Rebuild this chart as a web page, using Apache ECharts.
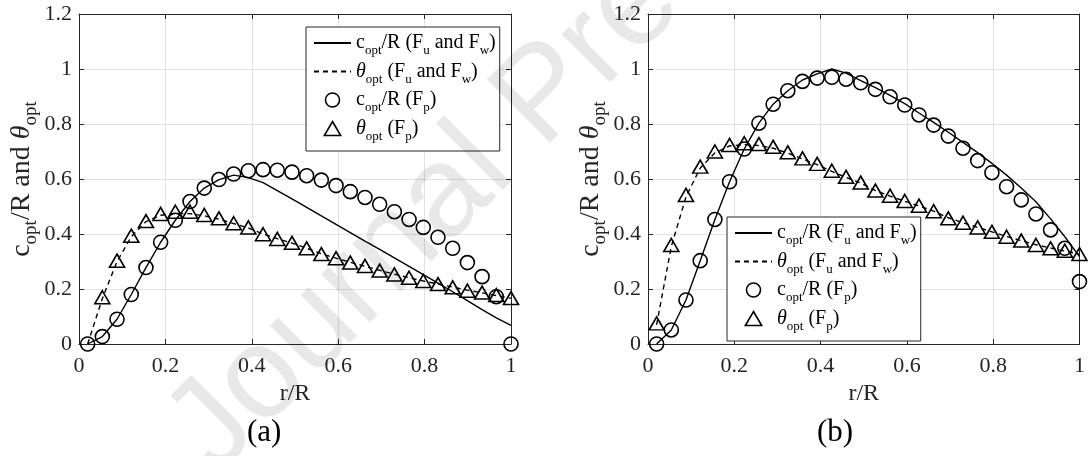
<!DOCTYPE html>
<html>
<head>
<meta charset="utf-8">
<script src="https://cdn.jsdelivr.net/npm/echarts@6/dist/echarts.min.js"></script>
<style>
  html, body { margin: 0; padding: 0; background: #fff; }
  #main { width: 1088px; height: 456px; }
</style>
</head>
<body>
<div id="main"></div>
<script>
// r/R stations (same for both panels)
const rR = [0.02, 0.054, 0.088, 0.121, 0.155, 0.189, 0.223, 0.257, 0.29, 0.324,
    0.358, 0.392, 0.426, 0.459, 0.493, 0.527, 0.561, 0.595, 0.628, 0.662,
    0.696, 0.73, 0.764, 0.797, 0.831, 0.865, 0.899, 0.933, 0.966, 1.0]

// (a)
const cLineA = [0, 0.027, 0.09, 0.18, 0.278, 0.37, 0.45, 0.518, 0.567, 0.598,
    0.614, 0.605, 0.587, 0.558, 0.528, 0.497, 0.466, 0.435, 0.405, 0.374,
    0.344, 0.313, 0.282, 0.252, 0.221, 0.19, 0.158, 0.125, 0.095, 0.068]
const thLineA = [0, 0.165, 0.3, 0.39, 0.445, 0.468, 0.475, 0.474, 0.466, 0.454,
    0.438, 0.422, 0.4, 0.383, 0.367, 0.348, 0.328, 0.312, 0.297, 0.283,
    0.268, 0.254, 0.241, 0.229, 0.218, 0.207, 0.196, 0.186, 0.176, 0.166]
const cPtsA = [0, 0.027, 0.09, 0.18, 0.278, 0.37, 0.45, 0.518, 0.567, 0.598,
    0.618, 0.63, 0.634, 0.632, 0.625, 0.612, 0.596, 0.576, 0.554, 0.533,
    0.508, 0.481, 0.453, 0.424, 0.388, 0.348, 0.296, 0.245, 0.172, 0]
const thPtsA = [null, 0.17, 0.303, 0.394, 0.447, 0.473, 0.481, 0.481, 0.469, 0.457,
    0.439, 0.424, 0.399, 0.382, 0.368, 0.348, 0.327, 0.312, 0.296, 0.284,
    0.267, 0.253, 0.241, 0.229, 0.218, 0.206, 0.194, 0.187, 0.178, 0.167]

// (b)
const cLineB = [0, 0.051, 0.16, 0.303, 0.453, 0.59, 0.709, 0.803, 0.872, 0.921,
    0.96, 0.982, 1.0, 0.985, 0.958, 0.932, 0.904, 0.874, 0.84, 0.806,
    0.77, 0.733, 0.696, 0.657, 0.614, 0.567, 0.517, 0.455, 0.39, 0.318]
const thLineB = [0.07, 0.355, 0.535, 0.64, 0.695, 0.72, 0.725, 0.722, 0.712, 0.694,
    0.673, 0.652, 0.628, 0.606, 0.585, 0.558, 0.538, 0.519, 0.502, 0.483,
    0.459, 0.441, 0.424, 0.408, 0.391, 0.376, 0.361, 0.349, 0.338, 0.327]
const cPtsB = [0, 0.051, 0.16, 0.303, 0.453, 0.59, 0.709, 0.803, 0.872, 0.921,
    0.955, 0.967, 0.97, 0.963, 0.95, 0.926, 0.899, 0.869, 0.833, 0.796,
    0.756, 0.712, 0.667, 0.623, 0.572, 0.524, 0.473, 0.415, 0.348, 0.227]
const thPtsB = [0.075, 0.36, 0.542, 0.645, 0.7, 0.724, 0.73, 0.727, 0.717, 0.697,
    0.675, 0.655, 0.63, 0.608, 0.587, 0.558, 0.539, 0.52, 0.503, 0.483,
    0.457, 0.441, 0.424, 0.408, 0.39, 0.376, 0.36, 0.348, 0.339, 0.327]

const legendText = {
    cUW: '{m|c}{s|opt}{m|/R (F}{s|u}{m| and F}{s|w}{m|)}',
    tUW: '{i|θ}{s|opt}{m| (F}{s|u}{m| and F}{s|w}{m|)}',
    cP: '{m|c}{s|opt}{m|/R (F}{s|p}{m|)}',
    tP: '{i|θ}{s|opt}{m| (F}{s|p}{m|)}'
}
const yName = '{m|c}{s|opt}{m|/R and }{i|θ}{s|opt}'

const serif = 'Liberation Serif'
const ink = '#262626'
// legend text
const rich = {
    m: { fontFamily: serif, fontSize: 20, color: '#000', lineHeight: 28 },
    i: { fontFamily: serif, fontSize: 20, fontStyle: 'italic', color: '#000', lineHeight: 28 },
    s: { fontFamily: serif, fontSize: 13, color: '#000', verticalAlign: 'bottom', height: 12, lineHeight: 12 }
}
// y axis title (bigger)
const richY = {
    m: { fontFamily: serif, fontSize: 28, color: ink, lineHeight: 37 },
    i: { fontFamily: serif, fontSize: 28, fontStyle: 'italic', color: ink, lineHeight: 37 },
    s: { fontFamily: serif, fontSize: 19, color: ink, verticalAlign: 'bottom', height: 19, lineHeight: 19 }
}

function pairs(ys) {
    let out = []
    ys.forEach(function (v, k) {
        if (v !== null) out.push([rR[k], v])
    })
    return out
}

const grids = [
    { left: 79, top: 14, width: 432, height: 330 },
    { left: 648, top: 14, width: 434, height: 330 }
]

let xAxis = []
let yAxis = []
grids.forEach(function (g, i) {
    xAxis.push({
        gridIndex: i, type: 'value', min: 0, max: 1, interval: 0.2, position: 'bottom',
        name: 'r/R', nameLocation: 'middle', nameGap: 36,
        nameTextStyle: { fontFamily: serif, fontSize: 24, color: ink },
        axisLine: { onZero: false, lineStyle: { color: ink, width: 1 } },
        axisTick: { inside: true, length: 5, lineStyle: { color: ink } },
        axisLabel: { fontFamily: serif, fontSize: 22, color: ink, margin: 11 },
        splitLine: { show: true, lineStyle: { color: '#e2e2e2', width: 1 } }
    })
    xAxis.push({
        gridIndex: i, type: 'value', min: 0, max: 1, interval: 0.2, position: 'top',
        axisLine: { onZero: false, lineStyle: { color: ink, width: 1 } },
        axisTick: { inside: true, length: 5, lineStyle: { color: ink } },
        axisLabel: { show: false },
        splitLine: { show: false }
    })
    yAxis.push({
        gridIndex: i, type: 'value', min: 0, max: 1.2, interval: 0.2, position: 'left',
        name: yName, nameLocation: 'middle', nameGap: 37,
        nameTextStyle: { rich: richY, color: ink },
        axisLine: { onZero: false, lineStyle: { color: ink, width: 1 } },
        axisTick: { inside: true, length: 5, lineStyle: { color: ink } },
        axisLabel: { fontFamily: serif, fontSize: 22, color: ink, margin: 7 },
        splitLine: { show: true, lineStyle: { color: '#e2e2e2', width: 1 } }
    })
    yAxis.push({
        gridIndex: i, type: 'value', min: 0, max: 1.2, interval: 0.2, position: 'right',
        axisLine: { onZero: false, lineStyle: { color: ink, width: 1 } },
        axisTick: { inside: true, length: 5, lineStyle: { color: ink } },
        axisLabel: { show: false },
        splitLine: { show: false }
    })
})

const panels = [[cLineA, thLineA, cPtsA, thPtsA], [cLineB, thLineB, cPtsB, thPtsB]]
let series = []
panels.forEach(function (p, i) {
    let ax = { xAxisIndex: 2 * i, yAxisIndex: 2 * i }
    series.push(Object.assign({
        name: 'cUW', type: 'line', data: pairs(p[0]), symbol: 'none',
        lineStyle: { color: '#000', width: 1.4 }, itemStyle: { color: '#000' }, z: 3
    }, ax))
    series.push(Object.assign({
        name: 'tUW', type: 'line', data: pairs(p[1]), symbol: 'none',
        lineStyle: { color: '#000', width: 1.4, type: [5, 4] }, itemStyle: { color: '#000' }, z: 3
    }, ax))
    series.push(Object.assign({
        name: 'cP', type: 'scatter', data: pairs(p[2]), symbol: 'circle', symbolSize: 14, clip: false,
        itemStyle: { color: 'rgba(0,0,0,0)', borderColor: '#000', borderWidth: 1.6, opacity: 1 }, z: 4
    }, ax))
    series.push(Object.assign({
        name: 'tP', type: 'scatter', data: pairs(p[3]), symbol: 'triangle', symbolSize: [15, 13], clip: false,
        itemStyle: { color: 'rgba(0,0,0,0)', borderColor: '#000', borderWidth: 1.6, opacity: 1 }, z: 4
    }, ax))
})

function makeLegend(left, top) {
    return {
        orient: 'vertical', left: left, top: top, itemGap: 0, itemWidth: 37, itemHeight: 14,
        padding: [2, 4, 8, 7], borderColor: ink, borderWidth: 1, backgroundColor: '#fff',
        selectedMode: false, z: 10,
        itemStyle: { borderWidth: 1.6 },
        data: [
            { name: 'cUW', itemStyle: { opacity: 0 } },
            { name: 'tUW', itemStyle: { opacity: 0 } },
            { name: 'cP', icon: 'circle' },
            { name: 'tP', icon: 'path://M7,0 L14,12 L0,12 Z' }
        ],
        formatter: function (n) { return legendText[n] },
        textStyle: { rich: rich, lineHeight: 28 }
    }
}

var chartDom = document.getElementById('main')
var myChart = echarts.init(chartDom, null, { renderer: 'canvas' })
var option = {
    animation: false,
    backgroundColor: '#fff',
    grid: grids,
    xAxis: xAxis,
    yAxis: yAxis,
    legend: [makeLegend(306, 27), makeLegend(727, 217)],
    series: series,
    graphic: [
        { type: 'text', left: 247, top: 417, z: 20,
          style: { text: '(a)', fontFamily: serif, fontSize: 31, fill: '#000' } },
        { type: 'text', left: 817, top: 417, z: 20,
          style: { text: '(b)', fontFamily: serif, fontSize: 31, fill: '#000' } },
        // watermark
        { type: 'text', x: 190, y: 452, rotation: Math.PI / 4, z: 100, silent: true,
          style: { text: 'Journal Pre-proof', fontFamily: 'Liberation Sans', fontSize: 130,
                   fill: 'rgba(0,0,0,0.09)', align: 'left', verticalAlign: 'middle' } }
    ]
}
option && myChart.setOption(option)
</script>
</body>
</html>
